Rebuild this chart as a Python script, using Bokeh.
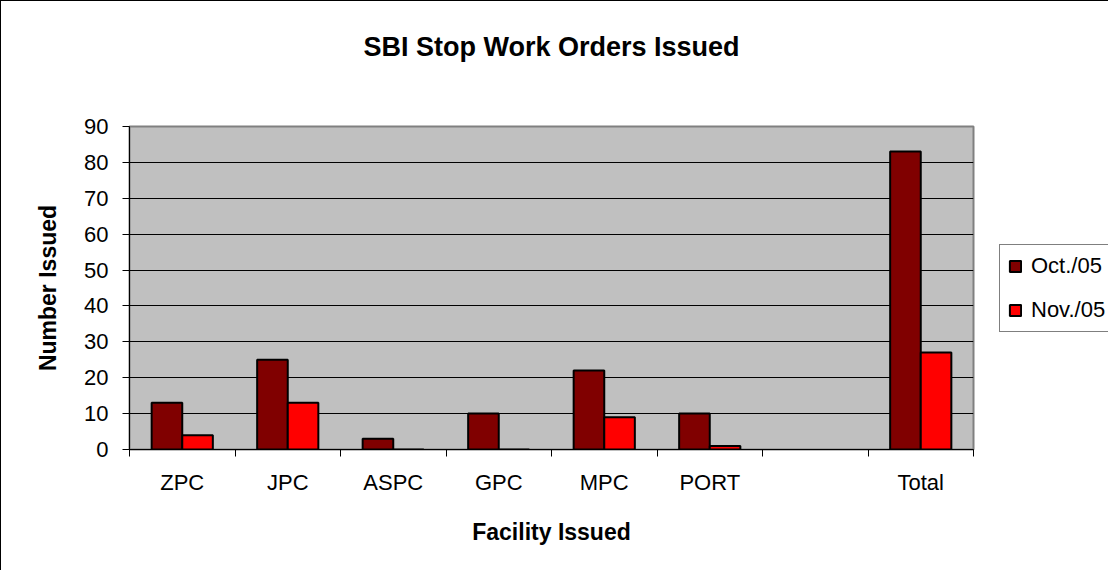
from bokeh.plotting import figure
from bokeh.models import ColumnDataSource, FixedTicker, Legend, LegendItem, Range1d, Title
from bokeh.layouts import row
from bokeh.transform import dodge
from bokeh.embed import file_html
from bokeh.resources import INLINE
import numpy as np

categories = ["ZPC", "JPC", "ASPC", "GPC", "MPC", "PORT", "", "Total"]
oct_05 = [13, 25, 3, 10, 22, 10, None, 83]
nov_05 = [4, 13, 0, 0, 9, 1, None, 27]
series_names = ["Oct./05", "Nov./05"]
series_colors = ["#800000", "#FF0000"]
y_ticks = [0, 10, 20, 30, 40, 50, 60, 70, 80, 90]

FONT = "Liberation Sans"

centers = [i + 0.5 for i in range(len(categories))]
src = ColumnDataSource(dict(
    x=centers,
    oct=[np.nan if v is None else v for v in oct_05],
    nov=[np.nan if v is None else v for v in nov_05],
))

p = figure(width=997, height=569, output_backend="svg", toolbar_location=None, title=None,
           x_range=Range1d(0, len(categories)), y_range=Range1d(0, 90),
           min_border_left=128, min_border_right=25, min_border_top=125, min_border_bottom=121,
           background_fill_color="#C0C0C0", border_fill_color="white")

bw = 0.29
p.vbar(x=dodge("x", -bw / 2, range=p.x_range), top="oct", width=bw, source=src,
       fill_color=series_colors[0], line_color="black", line_width=2)
p.vbar(x=dodge("x", bw / 2, range=p.x_range), top="nov", width=bw, source=src,
       fill_color=series_colors[1], line_color="black", line_width=2)

# Title: spacer below, main title above it
p.add_layout(Title(text=" ", text_font_size="1px", standoff=58), "above")
p.add_layout(Title(text="SBI Stop Work Orders Issued", align="center", text_font=FONT,
                   text_font_size="27px", text_font_style="bold", text_color="black",
                   standoff=8), "above")

# Y axis
p.yaxis.ticker = FixedTicker(ticks=y_ticks)
p.yaxis.axis_label = "Number Issued"
p.yaxis.axis_label_text_font = FONT
p.yaxis.axis_label_text_font_size = "23px"
p.yaxis.axis_label_text_font_style = "bold"
p.yaxis.axis_label_text_color = "black"
p.yaxis.axis_label_standoff = 20
p.yaxis.major_label_text_font = FONT
p.yaxis.major_label_text_font_size = "22px"
p.yaxis.major_label_text_color = "black"
p.yaxis.major_tick_out = 7
p.yaxis.major_tick_in = 0
p.yaxis.minor_tick_out = 0
p.yaxis.minor_tick_in = 0
p.yaxis.major_label_standoff = 14
p.yaxis.axis_line_color = "black"
p.yaxis.major_tick_line_color = "black"

# X axis: labels at centers, ticks at boundaries
p.xaxis.ticker = FixedTicker(ticks=centers, minor_ticks=list(range(len(categories) + 1)))
p.xaxis.major_label_overrides = {c: lab for c, lab in zip(centers, categories)}
p.xaxis.major_tick_out = 0
p.xaxis.major_tick_in = 0
p.xaxis.minor_tick_out = 7
p.xaxis.minor_tick_in = 0
p.xaxis.minor_tick_line_color = "black"
p.xaxis.major_label_standoff = 13
p.xaxis.major_label_text_font = FONT
p.xaxis.major_label_text_font_size = "22px"
p.xaxis.major_label_text_color = "black"
p.xaxis.axis_label = "Facility Issued"
p.xaxis.axis_label_text_font = FONT
p.xaxis.axis_label_text_font_size = "23px"
p.xaxis.axis_label_text_font_style = "bold"
p.xaxis.axis_label_text_color = "black"
p.xaxis.axis_label_standoff = 21
p.xaxis.axis_line_color = "black"

# Grid
p.xgrid.grid_line_color = None
p.ygrid.grid_line_color = "black"
p.ygrid.grid_line_width = 1
p.ygrid.ticker = FixedTicker(ticks=y_ticks)

p.outline_line_color = "#808080"
p.outline_line_width = 2

# Legend panel (separate figure to the right of the chart)
pl = figure(width=110, height=569, output_backend="svg", toolbar_location=None,
            x_range=Range1d(0, 1), y_range=Range1d(0, 1),
            x_axis_type=None, y_axis_type=None,
            min_border_left=0, min_border_right=0, min_border_top=0, min_border_bottom=0,
            outline_line_color=None, border_fill_color="white", background_fill_color="white")
pl.grid.visible = False
lr1 = pl.vbar(x=[np.nan], top=[np.nan], width=0.1, fill_color=series_colors[0],
              line_color="black", line_width=2)
lr2 = pl.vbar(x=[np.nan], top=[np.nan], width=0.1, fill_color=series_colors[1],
              line_color="black", line_width=2)

legend = Legend(items=[LegendItem(label=series_names[0], renderers=[lr1]),
                       LegendItem(label=series_names[1], renderers=[lr2])],
                location="left", orientation="vertical",
                label_text_font=FONT, label_text_font_size="22px", label_text_color="black",
                label_height=24, glyph_width=14, glyph_height=14, label_standoff=9,
                spacing=18, padding=8, margin=1,
                border_line_color="black", border_line_width=1,
                background_fill_color="white", background_fill_alpha=1)
pl.add_layout(legend, "center")

layout = row(p, pl)
layout.styles = {"border-left": "1px solid black", "border-top": "1px solid black"}

open("out.html", "w").write(file_html(layout, INLINE))
